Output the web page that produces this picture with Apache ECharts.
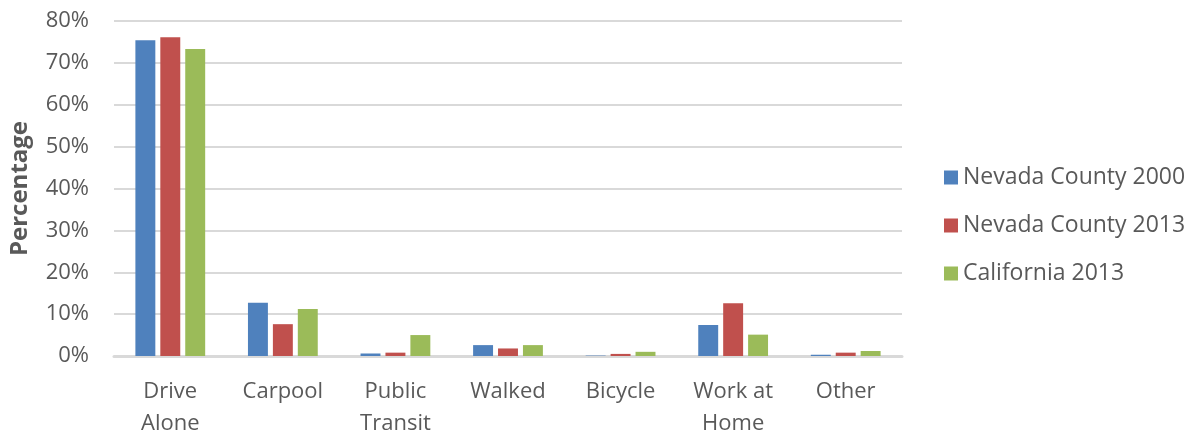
<!DOCTYPE html>
<html>
<head>
<meta charset="utf-8">
<script src="https://cdn.jsdelivr.net/npm/echarts@6/dist/echarts.min.js"></script>
<style>
  html, body { margin: 0; padding: 0; background: #fff; }
  #chart { width: 1192px; height: 434px; }
</style>
</head>
<body>
<div id="chart"></div>
<script>
// modes of travel to work, percent
const categories = ["Drive\nAlone", "Carpool", "Public\nTransit", "Walked", "Bicycle", "Work at\nHome", "Other"];
const nevada2000 = [75.4, 12.7, 0.6, 2.6, 0.1, 7.4, 0.3];
const nevada2013 = [76.1, 7.6, 0.8, 1.8, 0.5, 12.6, 0.8];
const california2013 = [73.3, 11.2, 5.0, 2.6, 1.0, 5.1, 1.2];

const font = "Open Sans, Noto Sans, sans-serif";
const chart = echarts.init(document.getElementById("chart"));

function bar(name, data, color) {
  return {
    name: name,
    type: "bar",
    data: data,
    barGap: "25%",
    barCategoryGap: "38%",
    itemStyle: { color: color }
  };
}

chart.setOption({
  animation: false,
  grid: { left: 114, right: 290, top: 21, bottom: 78, outerBoundsMode: "none" },
  legend: {
    orient: "vertical",
    left: 939,
    top: 161,
    itemWidth: 14,
    itemHeight: 14,
    itemGap: 25,
    icon: "rect",
    textStyle: { fontFamily: font, fontSize: 23, color: "#595959" }
  },
  xAxis: {
    type: "category",
    data: categories,
    axisLine: { lineStyle: { color: "#d9d9d9", width: 3 } },
    axisTick: { show: false },
    axisLabel: { fontFamily: font, fontSize: 22, color: "#595959", lineHeight: 32, margin: 20 }
  },
  yAxis: {
    type: "value",
    min: 0,
    max: 80,
    interval: 10,
    name: "Percentage",
    nameLocation: "middle",
    nameGap: 82,
    nameTextStyle: { fontFamily: font, fontSize: 24, fontWeight: "bold", color: "#595959" },
    axisLabel: { formatter: "{value}%", fontFamily: font, fontSize: 22, color: "#595959", margin: 25 },
    axisTick: { show: false },
    splitLine: { lineStyle: { color: "#d9d9d9", width: 2 } }
  },
  series: [
    bar("Nevada County 2000", nevada2000, "#4f81bd"),
    bar("Nevada County 2013", nevada2013, "#c0504d"),
    bar("California 2013", california2013, "#9bbb59")
  ]
});
</script>
</body>
</html>
